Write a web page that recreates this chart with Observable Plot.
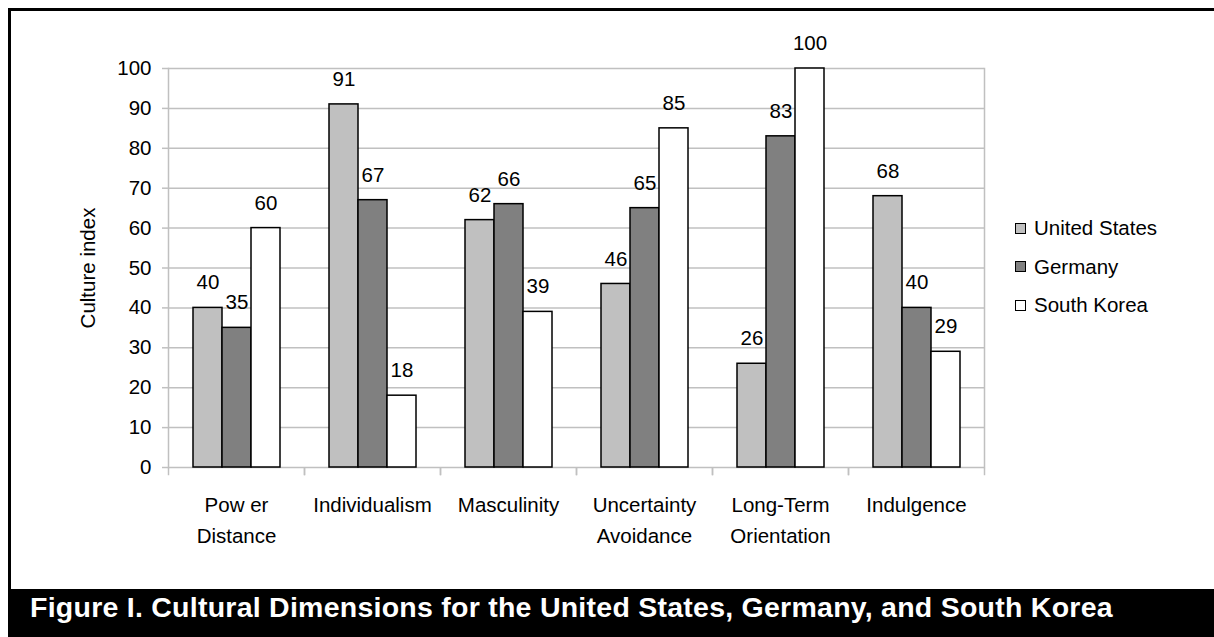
<!DOCTYPE html>
<html>
<head>
<meta charset="utf-8">
<script src="https://cdn.jsdelivr.net/npm/d3@7"></script>
<script src="https://cdn.jsdelivr.net/npm/@observablehq/plot@0.6"></script>
<style>
  html, body { margin: 0; padding: 0; background: #fff; }
  #wrap { position: relative; width: 1214px; height: 637px; overflow: hidden; background: #fff; font-family: "Liberation Sans", Arial, sans-serif; }
  #border { position: absolute; left: 8px; top: 8px; width: 1300px; height: 640px; border: 3px solid #000; box-sizing: border-box; }
  #chart { position: absolute; left: 0; top: 0; }
  #legend { position: absolute; left: 1015px; top: 218px; font-size: 20.5px; color: #000; }
  #legend .row { display: flex; align-items: center; height: 38.5px; position: relative; top: -9px; }
  #legend .sw { width: 9px; height: 9px; border: 1px solid #000; margin-right: 8px; }
  #title { position: absolute; left: 8px; top: 589px; width: 1206px; height: 48px; background: #000; color: #fff; font-weight: bold; font-size: 28.5px; letter-spacing: 0.25px; line-height: 36px; padding-left: 22px; box-sizing: border-box; white-space: nowrap; }
</style>
</head>
<body>
<div id="wrap">
  <div id="border"></div>
  <div id="chart"></div>
  <div id="legend"></div>
  <div id="title"></div>
</div>
<script>
const categories = ["Pow er\nDistance", "Individualism", "Masculinity", "Uncertainty\nAvoidance", "Long-Term\nOrientation", "Indulgence"];
const countries = ["United States", "Germany", "South Korea"];
const usValues = [40, 91, 62, 46, 26, 68];
const deValues = [35, 67, 66, 65, 83, 40];
const krValues = [60, 18, 39, 85, 100, 29];
const countryColors = ["#c0c0c0", "#808080", "#ffffff"];
const yTicks = [0, 10, 20, 30, 40, 50, 60, 70, 80, 90, 100];
const yLabel = "Culture index";
const titleText = "Figure I. Cultural Dimensions for the United States, Germany, and South Korea";

const series = [usValues, deValues, krValues];
const rows = [];
categories.forEach((c, i) => {
  countries.forEach((k, j) => rows.push({category: c, country: k, value: series[j][i]}));
});

const gray = "#c0c0c0";
const fs = 20.5;

const chart = Plot.plot({
  width: 1214,
  height: 589,
  marginLeft: 167,
  marginRight: 229,
  marginTop: 68,
  marginBottom: 122,
  style: {fontFamily: "'Liberation Sans', Arial, sans-serif", fontSize: fs + "px", background: "transparent", color: "#000"},
  fx: {domain: categories, paddingInner: 0, paddingOuter: 0, axis: null, label: null},
  x: {domain: countries, paddingInner: 0, paddingOuter: 0.77, axis: null, label: null},
  y: {domain: [0, 100], axis: null},
  color: {domain: countries, range: countryColors},
  marks: [
    Plot.gridY(yTicks, {stroke: gray, strokeOpacity: 1, strokeWidth: 1.5}),
    Plot.frame({anchor: "left", stroke: gray, strokeWidth: 1.5, fx: () => categories[0]}),
    Plot.frame({anchor: "right", stroke: gray, strokeWidth: 1.5, fx: () => categories[categories.length - 1]}),
    Plot.frame({anchor: "left", stroke: gray, strokeWidth: 1.5, insetTop: 400, insetBottom: -7}),
    Plot.frame({anchor: "right", stroke: gray, strokeWidth: 1.5, insetTop: 400, insetBottom: -7}),
    Plot.axisY({ticks: yTicks, tickSize: 6, tickPadding: 11, stroke: gray, strokeWidth: 1.5, fontSize: fs,
      label: yLabel, labelAnchor: "center", labelArrow: "none", labelOffset: 88}),
    Plot.barY(rows, {fx: "category", x: "country", y: "value", fill: "country", stroke: "#000", strokeWidth: 1.5}),
    Plot.text(rows, {fx: "category", x: "country", y: "value", text: d => String(d.value), dy: -25, fontSize: fs, fill: "#000"}),
    Plot.text(categories, {fx: d => d, text: d => d, frameAnchor: "bottom", lineAnchor: "top", dy: 22, lineHeight: 1.52, fontSize: fs, fill: "#000"})
  ]
});
document.getElementById("chart").appendChild(chart);

const legend = document.getElementById("legend");
countries.forEach((k, i) => {
  const row = document.createElement("div");
  row.className = "row";
  const sw = document.createElement("div");
  sw.className = "sw";
  sw.style.background = countryColors[i];
  const t = document.createElement("span");
  t.textContent = k;
  row.appendChild(sw);
  row.appendChild(t);
  legend.appendChild(row);
});
document.getElementById("title").textContent = titleText;
</script>
</body>
</html>
